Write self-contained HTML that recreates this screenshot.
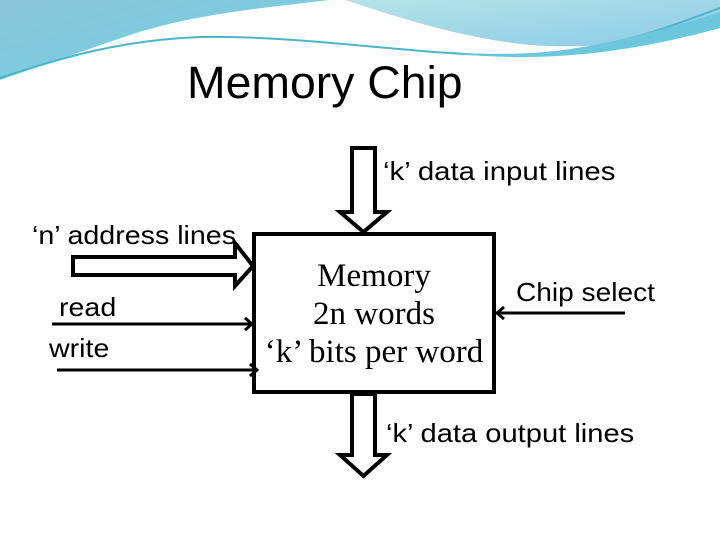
<!DOCTYPE html>
<html><head><style>
body{margin:0;width:720px;height:540px;background:#fff;overflow:hidden;position:relative;font-family:"Liberation Sans","DejaVu Sans",sans-serif;}
.t{position:absolute;white-space:nowrap;color:#000;transform-origin:left top;transform:scaleX(1.12);}
</style></head><body>
<svg width="720" height="540" style="position:absolute;left:0;top:0">
<defs>
<linearGradient id="g1" x1="0" y1="0" x2="1" y2="1"><stop offset="0" stop-color="#8cc6da"/><stop offset="1" stop-color="#6fd0e2"/></linearGradient>
<linearGradient id="g2" x1="0" y1="0" x2="1" y2="1"><stop offset="0" stop-color="#b4e4e8"/><stop offset="1" stop-color="#8ccbe8"/></linearGradient>
</defs>
<path d="M0,0 L330,0 C260,8 190,15 130,35 C80,52 35,68 0,80 Z" fill="url(#g1)"/>
<path d="M345,0 L720,0 L720,22 C660,40 600,50 530,45 C460,38 400,18 345,0 Z" fill="url(#g2)"/>
<path d="M0,78 C60,58 120,40 200,37 C300,35 420,55 500,55 C600,55 660,30 720,8" stroke="#4ab6c8" stroke-width="2" fill="none"/>
<path d="M440,50 C520,62 600,50 720,12 L720,28 C640,50 560,62 470,55 Z" fill="#6cc7dc"/>
<g stroke="#000" stroke-width="4" fill="#fff">
<rect x="254" y="234" width="240" height="158"/>
<polygon points="352,148 375,148 375,212 387,212 363.5,232 340,212 352,212"/>
<polygon points="352,394 375,394 375,455 387,455 363.5,476 340,455 352,455"/>
<polygon points="73,257 235,257 235,243 253,266 235,286 235,275 73,275"/>
</g>
<g stroke="#000" stroke-width="3" fill="none">
<line x1="52" y1="324" x2="251" y2="324"/><polyline points="245,318 252,324 245,330"/>
<line x1="57" y1="370" x2="256" y2="370"/><polyline points="250,364 257,370 250,376"/>
<line x1="625" y1="313" x2="498" y2="313"/><polyline points="504,307 497,313 504,319"/>
</g>
</svg>
<div class="t" style="left:187px;top:57px;font-size:45px;transform:scaleX(1.03);">Memory Chip</div>
<div class="t" style="left:383px;top:156px;font-size:26px;transform:scaleX(1.13);">‘k’ data input lines</div>
<div class="t" style="left:32px;top:220px;font-size:26px;transform:scaleX(1.1);">‘n’ address lines</div>
<div class="t" style="left:59px;top:292px;font-size:26px;transform:scaleX(1.1);">read</div>
<div class="t" style="left:49px;top:333px;font-size:26px;transform:scaleX(1.1);">write</div>
<div class="t" style="left:516px;top:277px;font-size:26px;transform:scaleX(1.08);">Chip select</div>
<div class="t" style="left:386px;top:418px;font-size:26px;transform:scaleX(1.12);">‘k’ data output lines</div>
<div class="t" style="left:254px;top:257px;width:240px;text-align:center;font-family:'Liberation Serif',serif;font-size:33px;line-height:38px;white-space:normal;transform:none;">Memory<br>2n words<br>‘k’ bits per word</div>
</body></html>
